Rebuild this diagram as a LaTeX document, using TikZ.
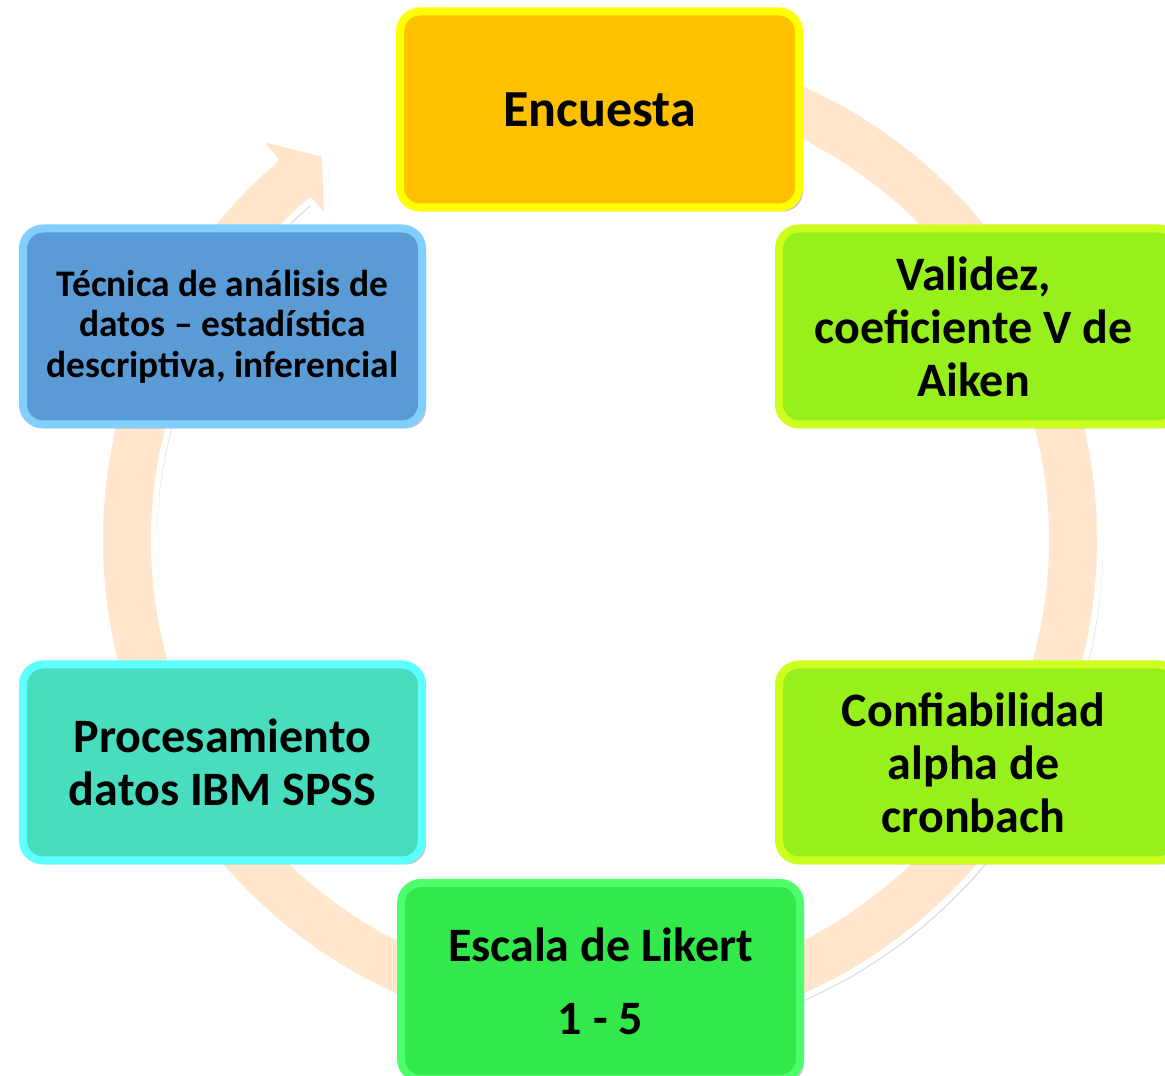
\documentclass[tikz,border=0pt]{standalone}
\usepackage{fontspec}
\setmainfont{Carlito}
\usetikzlibrary{shadows}
\definecolor{ringfill}{HTML}{FFE6CC}
\definecolor{encfill}{HTML}{FFC000}
\definecolor{encborder}{HTML}{FFFF00}
\definecolor{valfill}{HTML}{97EF1B}
\definecolor{valborder}{HTML}{CCFF1F}
\definecolor{likfill}{HTML}{33E84A}
\definecolor{likborder}{HTML}{4DFF6A}
\definecolor{profill}{HTML}{48DDBE}
\definecolor{proborder}{HTML}{5EFFFF}
\definecolor{tecfill}{HTML}{5B9BD5}
\definecolor{tecborder}{HTML}{80CFFF}
\begin{document}
\begin{tikzpicture}[x=1pt,y=1pt,
  box/.style={rectangle, rounded corners=20pt, line width=8pt,
    minimum width=399pt, minimum height=196pt, align=center,
    font=\fontsize{48}{53}\selectfont\bfseries, text=black,
    drop shadow={shadow xshift=4pt, shadow yshift=-4pt, opacity=0.22, fill=black}},
  ring/.style={fill=ringfill, draw=white, line width=6pt, line join=round,
    drop shadow={shadow xshift=3pt, shadow yshift=-3pt, opacity=0.15, fill=black}}
]
\useasboundingbox (0,0) rectangle (1165,1076);
\clip (0,0) rectangle (1165,1076);
\coordinate (c) at (600,536);
% continuous cycle ring with arrow head
\begin{scope}[shift={(c)}]
  \path[ring] (100:500) arc[start angle=100, end angle=-229.5, radius=500]
    -- (130.5:530) -- (125.5:474) -- (130.5:420) -- (130.5:446)
    arc[start angle=-229.5, end angle=100, radius=446] -- cycle;
\end{scope}
% boxes
\node[box, fill=encfill, draw=encborder, font=\fontsize{52}{57}\selectfont\bfseries] (enc) at (599.5,966.5) {Encuesta};
\node[box, fill=valfill, draw=valborder, text depth=0pt] (val) at (978.5,749.5) {\hspace*{-10pt}Validez,\\\hspace*{-10pt}coeficiente V de\\\hspace*{-10pt}Aiken};
\node[box, fill=valfill, draw=valborder] (conf) at (978.5,313.5) {\hspace*{-10pt}Confiabilidad\\\hspace*{-10pt}alpha de\\\hspace*{-10pt}cronbach};
\node[box, fill=likfill, draw=likborder] (lik) at (600.5,95) {Escala de Likert\\[20pt]1 - 5};
\node[box, fill=profill, draw=proborder] (pro) at (222.5,313.5) {Procesamiento\\datos IBM SPSS};
\node[box, fill=tecfill, draw=tecborder, font=\fontsize{37.5}{40.5}\selectfont\bfseries] (tec) at (222.5,749.5) {Técnica de análisis de\\datos – estadística\\descriptiva, inferencial};
\end{tikzpicture}
\end{document}
